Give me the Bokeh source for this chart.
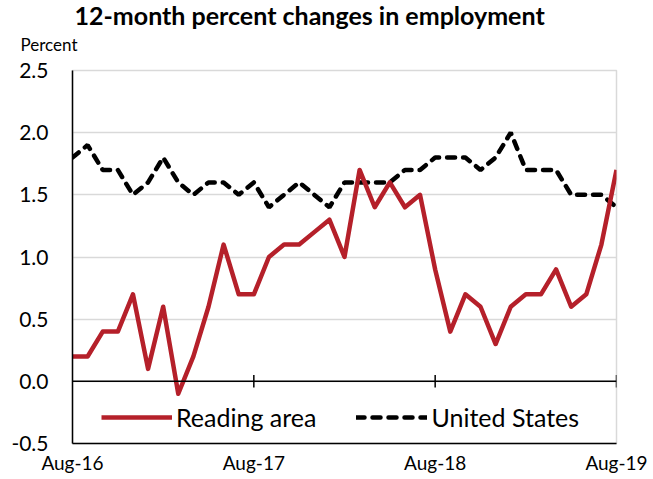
from bokeh.plotting import figure
from bokeh.models import Range1d, FixedTicker, Span, Title, Legend, LegendItem, PrintfTickFormatter
from bokeh.embed import file_html
from bokeh.resources import INLINE

# Monthly data Aug-2016 .. Aug-2019 (37 months)
months = list(range(37))
reading_area = [0.2, 0.2, 0.4, 0.4, 0.7, 0.1, 0.6, -0.1, 0.2, 0.6, 1.1, 0.7, 0.7,
                1.0, 1.1, 1.1, 1.2, 1.3, 1.0, 1.7, 1.4, 1.6, 1.4, 1.5, 0.9,
                0.4, 0.7, 0.6, 0.3, 0.6, 0.7, 0.7, 0.9, 0.6, 0.7, 1.1, 1.7]
united_states = [1.8, 1.9, 1.7, 1.7, 1.5, 1.6, 1.8, 1.6, 1.5, 1.6, 1.6, 1.5, 1.6,
                 1.4, 1.5, 1.6, 1.5, 1.4, 1.6, 1.6, 1.6, 1.6, 1.7, 1.7, 1.8,
                 1.8, 1.8, 1.7, 1.8, 2.0, 1.7, 1.7, 1.7, 1.5, 1.5, 1.5, 1.4]
x_tick_pos = [0, 12, 24, 36]
x_tick_labels = ["Aug-16", "Aug-17", "Aug-18", "Aug-19"]
y_ticks = [-0.5, 0.0, 0.5, 1.0, 1.5, 2.0, 2.5]

FONT = "Lato"
RED = "#B5202A"

p = figure(width=650, height=476, output_backend="svg", toolbar_location=None,
           x_range=Range1d(0, 36), y_range=Range1d(-0.5, 2.5),
           min_border_left=72, min_border_right=34, min_border_top=70, min_border_bottom=33)
p.title = None
p.outline_line_color = "#d9d9d9"
p.outline_line_width = 1.5

p.xgrid.grid_line_color = None
p.ygrid.grid_line_color = "#d9d9d9"
p.ygrid.grid_line_width = 1.5
p.ygrid.ticker = FixedTicker(ticks=y_ticks)

p.yaxis.ticker = FixedTicker(ticks=y_ticks)
p.yaxis.formatter = PrintfTickFormatter(format="%.1f")
p.yaxis.major_tick_line_color = None
p.yaxis.major_tick_out = 0
p.yaxis.major_tick_in = 0
p.yaxis.minor_tick_line_color = None
p.yaxis.axis_line_color = "black"
p.yaxis.axis_line_width = 1.5
p.yaxis.major_label_standoff = 24
p.yaxis.major_label_text_font = FONT
p.yaxis.major_label_text_font_size = "21px"
p.yaxis.major_label_text_color = "black"

p.xaxis.ticker = FixedTicker(ticks=x_tick_pos)
p.xaxis.major_label_overrides = {t: l for t, l in zip(x_tick_pos, x_tick_labels)}
p.xaxis.major_tick_line_color = None
p.xaxis.major_tick_out = 0
p.xaxis.major_tick_in = 0
p.xaxis.minor_tick_line_color = None
p.xaxis.axis_line_color = "black"
p.xaxis.axis_line_width = 1.5
p.xaxis.major_label_standoff = 7
p.xaxis.major_label_text_font = FONT
p.xaxis.major_label_text_font_size = "19px"
p.xaxis.major_label_text_color = "black"

# zero line with crossing ticks
p.add_layout(Span(location=0, dimension="width", line_color="black", line_width=1.5))
p.segment(x0=x_tick_pos[1:], x1=x_tick_pos[1:], y0=[-0.05] * 3, y1=[0.05] * 3,
          line_color="black", line_width=1.5)

r_us = p.line(months, united_states, line_color="black", line_width=4.5,
              line_dash="8 8", line_cap="round")
r_rd = p.line(months, reading_area, line_color=RED, line_width=4.5, line_join="round")

legend = Legend(items=[LegendItem(label="Reading area", renderers=[r_rd]),
                       LegendItem(label="United States", renderers=[r_us])],
                orientation="horizontal", location=(29, 11))
legend.glyph_width = 71
legend.glyph_height = 20
legend.label_standoff = 4
legend.spacing = 40
legend.padding = 8
legend.label_text_font = FONT
legend.label_text_font_size = "25px"
legend.label_text_color = "black"
legend.background_fill_alpha = 0
legend.border_line_color = None
p.add_layout(legend)

# "Percent" unit label (closest to frame), then the main title above it
p.add_layout(Title(text="Percent", align="left", offset=-52, standoff=31,
                   text_font=FONT, text_font_size="17px", text_font_style="normal",
                   text_color="black"), "above")
p.add_layout(Title(text="12-month percent changes in employment", align="left",
                   offset=2, standoff=-27, text_font=FONT, text_font_size="25px",
                   text_font_style="bold", text_color="black"), "above")

open("out.html", "w").write(file_html(p, INLINE))
